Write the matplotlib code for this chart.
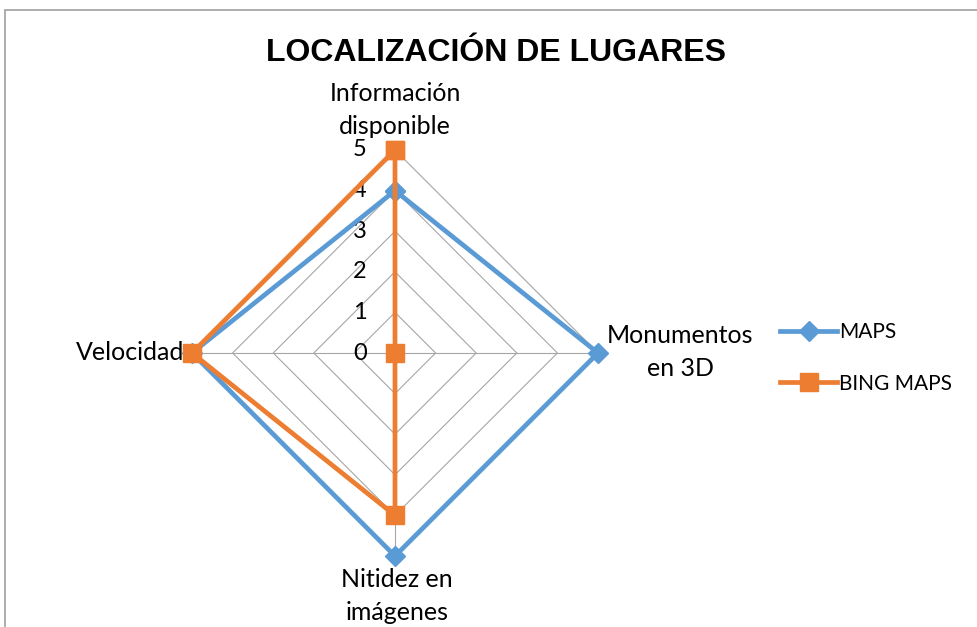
import matplotlib
matplotlib.use('Agg')
import matplotlib.pyplot as plt
import numpy as np

categories = ["Información\ndisponible", "Monumentos\nen 3D", "Nitidez en\nimágenes", "Velocidad"]
maps_values = [4, 5, 5, 5]
bing_values = [5, 0, 4, 5]
ticks = [0, 1, 2, 3, 4, 5]
title = "LOCALIZACIÓN DE LUGARES"

BLUE = "#5B9BD5"
ORANGE = "#ED7D31"
GRID = "#A6A6A6"
FONT = "Lato"

W, H = 978, 627
cx, cy = 395, 353      # centre of the radar in pixels
scale = 40.6           # pixels per value unit

fig = plt.figure(figsize=(W / 100, H / 100), dpi=100)
ax = fig.add_axes([0, 0, 1, 1])
ax.set_xlim(-cx / scale, (W - cx) / scale)
ax.set_ylim(-(H - cy) / scale, cy / scale)
ax.axis("off")

# angles: top, right, bottom, left (clockwise from top)
angles = np.pi / 2 - np.arange(len(categories)) * 2 * np.pi / len(categories)


def to_xy(values):
    v = np.asarray(values, dtype=float)
    x = v * np.cos(angles)
    y = v * np.sin(angles)
    return np.append(x, x[0]), np.append(y, y[0])


# polygon grid
for t in ticks[1:]:
    gx, gy = to_xy([t] * len(categories))
    ax.plot(gx, gy, color=GRID, lw=0.8, zorder=1)
for a in angles:
    ax.plot([0, ticks[-1] * np.cos(a)], [0, ticks[-1] * np.sin(a)], color=GRID, lw=0.8, zorder=1)

# tick labels along the top spoke
for t in ticks:
    ax.text(-0.7, t, str(t), ha="right", va="center", fontsize=17, family=FONT, zorder=2)

# series
mx, my = to_xy(maps_values)
ax.plot(mx, my, color=BLUE, lw=3.4, marker="D", ms=10, zorder=3, label="MAPS",
        solid_joinstyle="miter")
bx, by = to_xy(bing_values)
ax.plot(bx, by, color=ORANGE, lw=3.4, marker="s", ms=13, zorder=4, label="BING MAPS",
        solid_joinstyle="miter")

# category labels
ax.text(0, 5.98, categories[0], ha="center", va="center", fontsize=18,
        family=FONT, linespacing=1.5)
ax.text(7.02, 0.02, categories[1], ha="center", va="center", fontsize=18,
        family=FONT, linespacing=1.5)
ax.text(0.05, -5.98, categories[2], ha="center", va="center", fontsize=18,
        family=FONT, linespacing=1.5)
ax.text(-5.2, 0, categories[3], ha="right", va="center", fontsize=18,
        family=FONT)

ax.text(2.5, 7.4, title, ha="center", va="center", fontsize=23,
        fontweight="bold", family="Liberation Sans")

leg = ax.legend(loc="upper left", bbox_to_anchor=(770 / W, 1 - 312 / H),
                frameon=False, prop={"family": FONT, "size": 15},
                handlelength=2.7, handletextpad=0.1, labelspacing=1.5, borderpad=0)

# chart frame
fig.patches.append(plt.Rectangle((5 / W, -0.1), 1.2, 1 - 10 / H + 0.1,
                                 transform=fig.transFigure, fill=False,
                                 edgecolor="#A0A0A0", lw=1.2))

fig.savefig("out.png", dpi=100)
